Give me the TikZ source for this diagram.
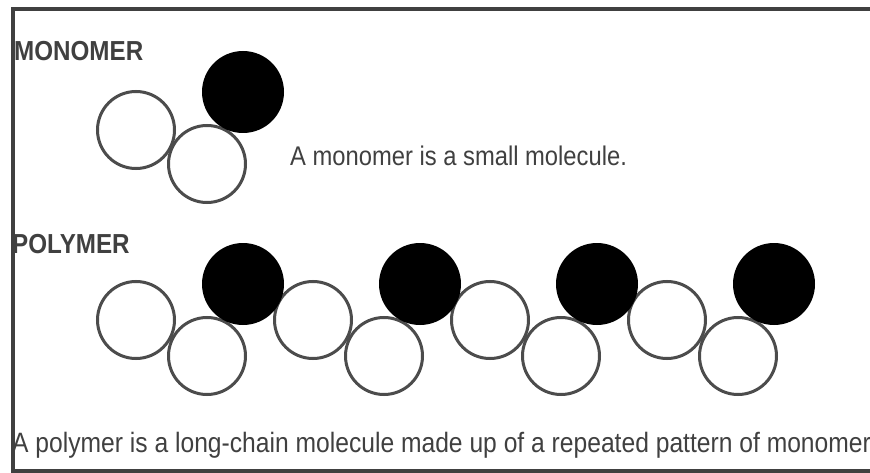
\documentclass[tikz,border=0pt]{standalone}
\usepackage{fontspec}
\setmainfont{Liberation Sans}
\newfontfamily\narrowfont[FakeStretch=0.88]{Liberation Sans}
\usetikzlibrary{positioning}

\begin{document}
\begin{tikzpicture}[
    x=1pt,y=-1pt,
    every node/.style={font=\narrowfont\fontsize{27}{30}\selectfont,text=black!75,inner sep=0pt},
    openatom/.style={circle,draw=black!70,line width=3pt,minimum size=77pt},
    darkatom/.style={circle,fill=black,minimum size=82pt},
    heading/.style={font=\narrowfont\fontsize{27.5}{30}\selectfont\bfseries,anchor=base west},
    caption/.style={anchor=base west},
    frameline/.style={draw=black!75,line width=4pt},
]
\useasboundingbox (0,0) rectangle (870,473);
\clip (0,0) rectangle (870,473);
\fill[white] (0,0) rectangle (870,473);

% Monomer: two open atoms and one dark atom
\node[openatom] (monoA) at (136,130) {};
\node[openatom] (monoB) at (207,164) {};
\node[darkatom] (monoC) at (243,92) {};

% Polymer: the same unit repeated four times
\foreach \k in {0,...,3}{
  \node[openatom] (polyA\k) at (136+177*\k,320) {};
  \node[openatom] (polyB\k) at (207+177*\k,356) {};
}
\foreach \k in {0,...,3}{
  \node[darkatom] (polyC\k) at (243+177*\k,284) {};
}

% Labels
\node[heading] (monohead) at (14,61) {MONOMER};
\node[heading] (polyhead) at (12,253) {POLYMER};
\node[caption] (monotext) at (290,166) {A monomer is a small molecule.};
\node[caption,font=\narrowfont\fontsize{28}{30}\selectfont] (polytext) at (12,452) {A polymer is a long-chain molecule made up of a repeated pattern of monomers};

% Frame (open on the right)
\draw[frameline] (870,9) -- (13,9) -- (13,471) -- (870,471);
\end{tikzpicture}
\end{document}
